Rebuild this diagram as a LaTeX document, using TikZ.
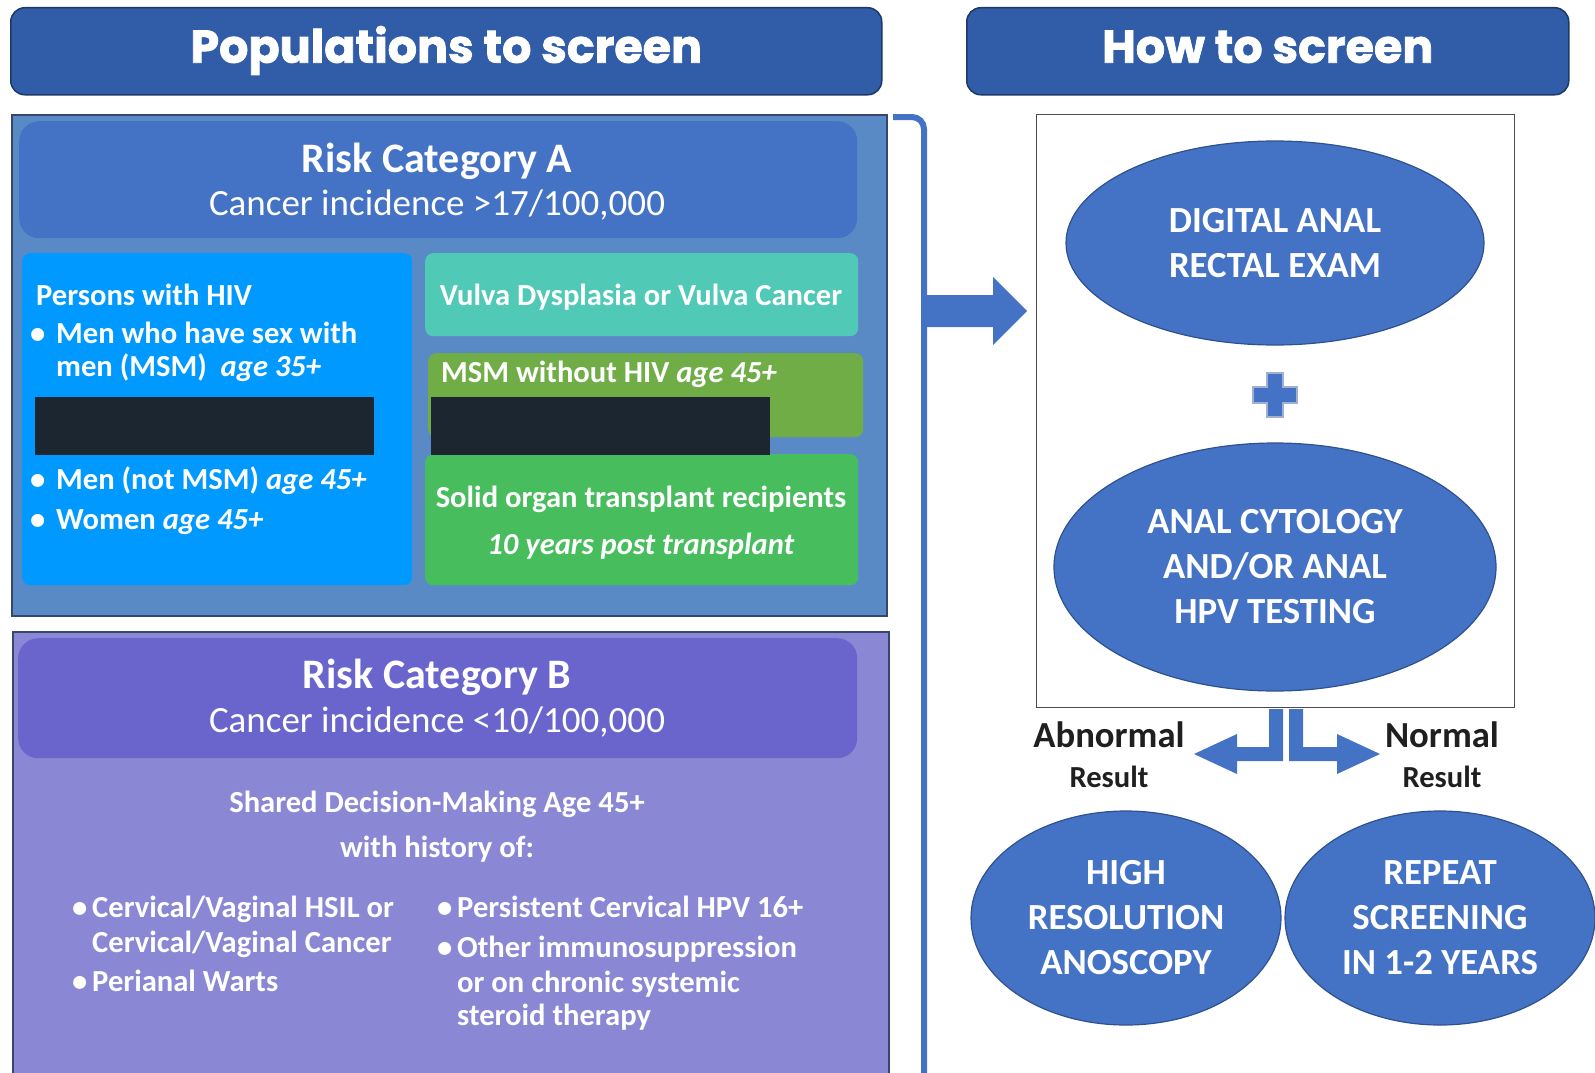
\documentclass[tikz,border=0pt]{standalone}
\usepackage{fontspec}
\setmainfont{Carlito}
\newfontfamily\headfont{Poppins}[BoldFeatures={FakeBold=1.6}]
\usetikzlibrary{shapes.geometric}
\definecolor{hdrblue}{RGB}{48,92,168}
\definecolor{hdrline}{RGB}{32,56,100}
\definecolor{panelA}{RGB}{90,138,198}
\definecolor{panelB}{RGB}{138,136,212}
\definecolor{panelline}{RGB}{55,70,110}
\definecolor{titleA}{RGB}{68,114,196}
\definecolor{titleB}{RGB}{106,101,204}
\definecolor{hivblue}{RGB}{0,153,255}
\definecolor{vulvateal}{RGB}{80,201,183}
\definecolor{msmgreen}{RGB}{112,173,71}
\definecolor{sotgreen}{RGB}{72,189,94}
\definecolor{redact}{RGB}{27,38,49}
\definecolor{ovalblue}{RGB}{68,114,196}
\definecolor{ovalline}{RGB}{47,82,143}
\definecolor{plusline}{RGB}{160,176,210}

\begin{document}
\begin{tikzpicture}[x=1pt,y=-1pt,
  hdr/.style={draw=hdrline,fill=hdrblue,line width=1.5pt,rounded corners=14pt,anchor=north west,inner sep=0pt,text height=34pt,text depth=11pt,text=white,font=\headfont\bfseries\fontsize{46}{50}\selectfont},
  panel/.style={draw=panelline,line width=1.8pt,anchor=north west,inner sep=0pt},
  titlebox/.style={rounded corners=20pt,anchor=north west,inner sep=0pt},
  popbox/.style={rounded corners=8pt,anchor=north west,inner sep=0pt},
  redactbox/.style={fill=redact,anchor=north west,inner sep=0pt},
  ttl/.style={text=white,inner sep=0pt,anchor=mid,yshift=-10pt,font=\bfseries\fontsize{42}{44}\selectfont},
  sub/.style={text=white,inner sep=0pt,anchor=mid,yshift=-9pt,font=\fontsize{37}{40}\selectfont},
  txt/.style={text=white,inner sep=0pt,anchor=mid west,yshift=-8pt,font=\bfseries\fontsize{30.6}{34}\selectfont},
  ctxt/.style={txt,anchor=mid},
  btxt/.style={text=white,inner sep=0pt,anchor=mid west,yshift=-7pt,font=\bfseries\fontsize{30.6}{34}\selectfont},
  oval/.style={ellipse,draw=ovalline,fill=ovalblue,line width=1.2pt,inner sep=0pt,text=white,align=center,font=\bfseries\fontsize{36.8}{45}\selectfont},
  res/.style={inner sep=0pt,anchor=mid,yshift=-10pt,text=black!88,font=\bfseries\fontsize{36.7}{40}\selectfont},
  resb/.style={res,yshift=2pt,font=\bfseries\fontsize{30.6}{32}\selectfont},
  brk/.style={draw=ovalblue,line width=6pt,rounded corners=12pt}
]
\useasboundingbox (0,0) rectangle (1595,1073);
\node[hdr,minimum width=871pt,minimum height=87pt] (pophdr) at (10,7) {Populations to screen};
\node[hdr,minimum width=602pt,minimum height=87pt] (howhdr) at (966,7) {How to screen};

\node[panel,fill=panelA,minimum width=875pt,minimum height=501pt] (panelA) at (11,114) {};
\node[titlebox,fill=titleA,minimum width=838pt,minimum height=117pt] (catA) at (19,121) {};
\node[ttl] (catAname) at (437,160) {Risk Category A};
\node[sub] (catAinc) at (437,204) {Cancer incidence >17/100,000};

\node[popbox,fill=hivblue,minimum width=390pt,minimum height=332pt] (hiv) at (22,253) {};
\node[txt] (hivhead) at (36,295) {Persons with HIV};
\node[txt] (hivmsm) at (30,333) {\makebox[26pt][l]{•}Men who have sex with};
\node[txt] (hivmsmb) at (56,366) {men (MSM)\ \ \textit{age 35+}};
\node[txt] (hivmen) at (30,479) {\makebox[26pt][l]{•}Men (not MSM) \textit{age 45+}};
\node[txt] (hivwomen) at (30,519) {\makebox[26pt][l]{•}Women \textit{age 45+}};

\node[popbox,fill=vulvateal,minimum width=433pt,minimum height=83pt] (vulva) at (425,253) {};
\node[ctxt] (vulvatxt) at (641,295) {Vulva Dysplasia or Vulva Cancer};
\node[popbox,fill=msmgreen,minimum width=435pt,minimum height=84pt] (msm) at (428,353) {};
\node[txt] (msmtxt) at (441,372) {MSM without HIV \textit{age 45+}};
\node[popbox,fill=sotgreen,minimum width=433pt,minimum height=131pt] (sot) at (425,454) {};
\node[ctxt] (sottxt) at (641,497) {Solid organ transplant recipients};
\node[ctxt] (sotyrs) at (641,544) {\textit{10 years post transplant}};

\node[redactbox,minimum width=339pt,minimum height=58pt] (redactL) at (35,397) {};
\node[redactbox,minimum width=339pt,minimum height=58pt] (redactR) at (431,397) {};

\node[panel,fill=panelB,minimum width=876pt,minimum height=448pt] (panelB) at (12,631) {};
\node[titlebox,fill=titleB,minimum width=839pt,minimum height=120pt] (catB) at (18,638) {};
\node[ttl] (catBname) at (437,676) {Risk Category B};
\node[sub] (catBinc) at (437,721) {Cancer incidence <10/100,000};
\node[btxt,anchor=mid] (sdm) at (437,803) {Shared Decision-Making Age 45+};
\node[btxt,anchor=mid] (hist) at (437,848) {with history of:};
\node[btxt] (hsil) at (72,908) {\makebox[20pt][l]{•}Cervical/Vaginal HSIL or};
\node[btxt] (hsilb) at (92,943) {Cervical/Vaginal Cancer};
\node[btxt] (warts) at (72,982) {\makebox[20pt][l]{•}Perianal Warts};
\node[btxt] (hpv) at (437,908) {\makebox[20pt][l]{•}Persistent Cervical HPV 16+};
\node[btxt] (immuno) at (437,948) {\makebox[20pt][l]{•}Other immunosuppression};
\node[btxt] (immunob) at (457,983) {or on chronic systemic};
\node[btxt] (immunoc) at (457,1016) {steroid therapy};

\draw[brk] (893,117) -| (924,1080);
\fill[ovalblue] (921,295) -- (993,295) -- (993,277) -- (1027,311) -- (993,345) -- (993,327) -- (921,327) -- cycle;

\node[draw=black!70,line width=1.2pt,anchor=north west,inner sep=0pt,minimum width=478pt,minimum height=593pt] (frame) at (1036,114) {};
\node[oval,minimum width=418pt,minimum height=204pt] (dare) at (1275,243) {DIGITAL ANAL\\RECTAL EXAM};
\filldraw[fill=ovalblue,draw=plusline,line width=2.5pt] (1267,373) -- (1283,373) -- (1283,387) -- (1297,387) -- (1297,403) -- (1283,403) -- (1283,417) -- (1267,417) -- (1267,403) -- (1253,403) -- (1253,387) -- (1267,387) -- cycle;
\node[oval,minimum width=442pt,minimum height=248pt] (cyto) at (1275,567) {ANAL CYTOLOGY\\AND/OR ANAL\\HPV TESTING};

\fill[ovalblue] (1269,709) -- (1283,709) -- (1283,761) -- (1237,761) -- (1237,774) -- (1194,754) -- (1237,734) -- (1237,747) -- (1269,747) -- cycle;
\fill[ovalblue] (1289,709) -- (1303,709) -- (1303,747) -- (1337,747) -- (1337,734) -- (1380,754) -- (1337,774) -- (1337,761) -- (1289,761) -- cycle;
\node[res] (abn) at (1109,735) {Abnormal};
\node[resb] (abnres) at (1109,777) {Result};
\node[res] (nrm) at (1442,735) {Normal};
\node[resb] (nrmres) at (1442,777) {Result};

\node[oval,minimum width=310pt,minimum height=214pt] (hra) at (1126,918) {HIGH\\RESOLUTION\\ANOSCOPY};
\node[oval,minimum width=310pt,minimum height=214pt] (repeat) at (1440,918) {REPEAT\\SCREENING\\IN 1-2 YEARS};
\end{tikzpicture}
\end{document}
